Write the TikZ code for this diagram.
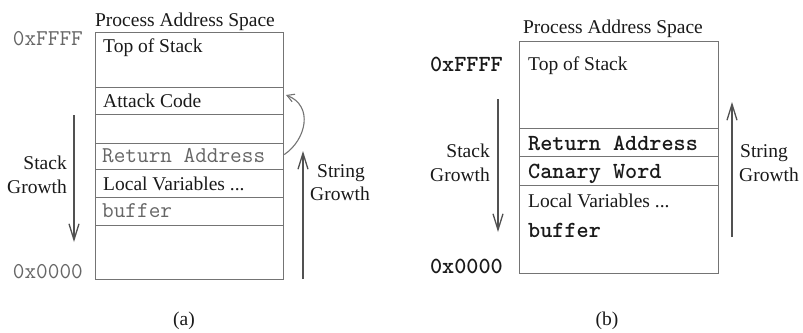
\documentclass[tikz,border=0pt]{standalone}
\usepackage{fontspec}
\setmainfont{Liberation Serif}
\usetikzlibrary{arrows.meta}
\definecolor{rule}{HTML}{747474}
\definecolor{ink}{HTML}{1A1A1A}
\definecolor{monoink}{HTML}{666666}
\begin{document}
\begin{tikzpicture}[x=1pt,y=-1pt,
  cellbox/.style={draw=rule, line width=1.2pt, inner sep=0pt, anchor=north west},
  txt/.style={font=\fontsize{19.5}{22}\selectfont, text=ink, inner sep=0pt, anchor=base west},
  mtxt/.style={font=\ttfamily\fontsize{22.6}{24}\selectfont, text=monoink, inner sep=0pt, anchor=base west},
  btxt/.style={font=\ttfamily\bfseries\fontsize{23.1}{24}\selectfont, text=ink, inner sep=0pt, anchor=base west},
  growth/.style={draw=rule!70!black, line width=1.3pt, -{Straight Barb[length=16pt,width=10pt,line width=1.3pt]}}]
\fill[white] (0,0) rectangle (803,332);
\useasboundingbox (0,0) rectangle (803,332);

% ---------- (a) stack without protection ----------
\node[txt, anchor=base] (ta) at (185,26) {Process Address Space};
\node[cellbox, minimum width=188pt, minimum height=55pt] (a1) at (95,32) {};
\node[cellbox, minimum width=188pt, minimum height=27pt] (a2) at (95,87) {};
\node[cellbox, minimum width=188pt, minimum height=29pt] (a3) at (95,114) {};
\node[cellbox, minimum width=188pt, minimum height=26pt] (a4) at (95,143) {};
\node[cellbox, minimum width=188pt, minimum height=28pt] (a5) at (95,169) {};
\node[cellbox, minimum width=188pt, minimum height=28pt] (a6) at (95,197) {};
\node[cellbox, minimum width=188pt, minimum height=54pt] (a7) at (95,225) {};

\node[txt]  (a1t) at (103,52)  {Top of Stack};
\node[txt]  (a2t) at (103,107) {Attack Code};
\node[mtxt] (a4t) at (102,162) {Return Address};
\node[txt]  (a5t) at (103,190) {Local Variables ...};
\node[mtxt] (a6t) at (102,217) {buffer};

\node[mtxt, anchor=base east] (ahi) at (83,45)  {0xFFFF};
\node[mtxt, anchor=base east] (alo) at (83,278) {0x0000};

\coordinate (asg1) at (74,115);
\coordinate (asg2) at (74,242);
\draw[growth] (asg1) -- (asg2);
\node[txt, anchor=base east] (ast1) at (67,169) {Stack};
\node[txt, anchor=base east] (ast2) at (67,193) {Growth};

\coordinate (astr1) at (303,279);
\coordinate (astr2) at (303,151);
\draw[growth] (astr1) -- (astr2);
\node[txt, anchor=base] (asr1) at (341,177) {String};
\node[txt, anchor=base] (asr2) at (340,200) {Growth};

% overwritten return address jumps into the attack code
\coordinate (jmp) at (286,95);
\draw[rule, line width=1.1pt, -{Straight Barb[length=7pt,width=8pt,line width=1.1pt]}]
  ([yshift=2pt]a4.east) .. controls (306,140) and (314,106) .. (jmp);

\node[txt, anchor=base] (capa) at (184,325) {(a)};

% ---------- (b) stack with canary ----------
\node[txt, anchor=base] (tb) at (613,33) {Process Address Space};
\node[cellbox, minimum width=199pt, minimum height=87pt] (b1) at (519,41) {};
\node[cellbox, minimum width=199pt, minimum height=28pt] (b2) at (519,128) {};
\node[cellbox, minimum width=199pt, minimum height=29pt] (b3) at (519,156) {};
\node[cellbox, minimum width=199pt, minimum height=88pt] (b4) at (519,185) {};

\node[txt]  (b1t) at (528,70)  {Top of Stack};
\node[btxt] (b2t) at (528,150) {Return Address};
\node[btxt] (b3t) at (528,178) {Canary Word};
\node[txt]  (b4t) at (528,207) {Local Variables ...};
\node[btxt] (b5t) at (528,237) {buffer};

\node[btxt, anchor=base east] (bhi) at (503,71)  {0xFFFF};
\node[btxt, anchor=base east] (blo) at (503,273) {0x0000};

\coordinate (bsg1) at (498,99);
\coordinate (bsg2) at (498,232);
\draw[growth] (bsg1) -- (bsg2);
\node[txt, anchor=base east] (bst1) at (490,157) {Stack};
\node[txt, anchor=base east] (bst2) at (490,181) {Growth};

\coordinate (bstr1) at (732,237);
\coordinate (bstr2) at (732,102);
\draw[growth] (bstr1) -- (bstr2);
\node[txt] (bsr1) at (740,157) {String};
\node[txt] (bsr2) at (739,181) {Growth};

\node[txt, anchor=base] (capb) at (607,325) {(b)};
\end{tikzpicture}
\end{document}
